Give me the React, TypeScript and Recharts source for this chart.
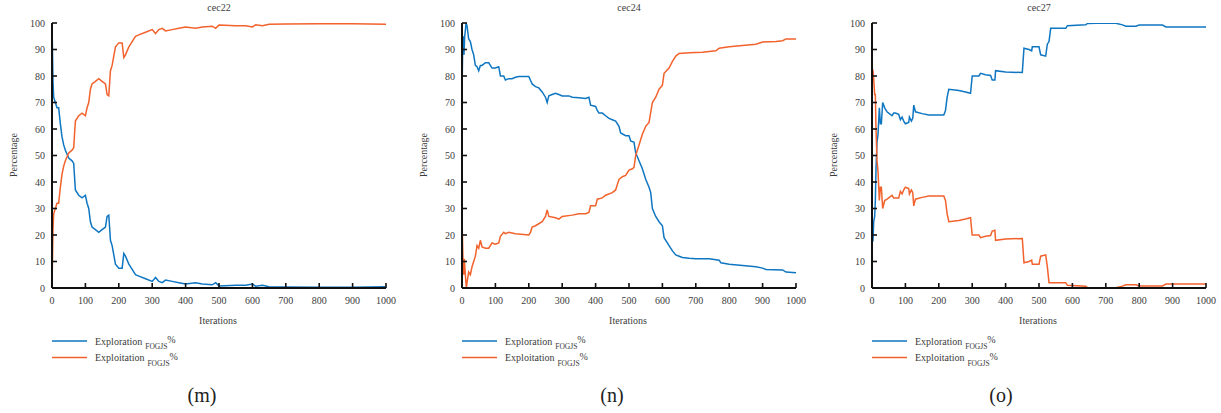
import React from 'react';
import { LineChart, Line, XAxis, YAxis } from 'recharts';

const FONT = '"Liberation Serif", "Times New Roman", serif';
const BLUE = '#0f76c2';
const ORANGE = '#f2622c';
const TEXT = '#3c3c3c';

const xTicks = [0, 100, 200, 300, 400, 500, 600, 700, 800, 900, 1000];
const yTicks = [0, 10, 20, 30, 40, 50, 60, 70, 80, 90, 100];

const titles = ['cec22', 'cec24', 'cec27'];
const captions = ['(m)', '(n)', '(o)'];
const seriesNames = ['Exploration', 'Exploitation'];
const subscript = 'FOGJS';

// cec22
const it22 = [0,3,5,10,15,20,25,30,35,40,50,60,65,70,80,90,100,105,110,115,120,130,140,150,160,165,170,175,180,190,200,210,215,220,230,240,250,260,280,300,310,320,330,340,360,380,400,430,450,480,490,500,550,580,600,610,630,650,700,800,900,1000];
const explore22 = [100,78,72,70,68,68,62,57,54,52,49,48,47,37,35,34,35,32,30,25,23,22,21,22,23,27,27.5,18,16,9,7.5,7.5,13,12,9,7,5,4.5,3.5,2.5,4,2.5,2,3,2.5,2,1.5,2,1.5,1.2,2,0.8,1,1,1.5,0.7,1,0.5,0.4,0.3,0.3,0.5];
const exploit22 = [0,22,28,30,32,32,38,43,46,48,51,52,53,63,65,66,65,68,70,75,77,78,79,78,77,73,72.5,82,84,91,92.5,92.5,87,88,91,93,95,95.5,96.5,97.5,96,97.5,98,97,97.5,98,98.5,98,98.5,98.8,98,99.2,99,99,98.5,99.3,99,99.5,99.6,99.7,99.7,99.5];

// cec24
const it24Explore = [0,2,4,6,8,10,12,15,20,25,30,35,40,45,50,55,60,70,80,90,100,110,115,125,130,140,150,160,170,200,210,220,230,240,250,255,260,270,280,290,300,320,330,350,370,380,385,400,405,410,420,430,440,450,460,470,475,490,500,505,515,520,530,540,550,560,565,570,580,590,600,605,620,630,640,650,660,680,700,740,770,775,800,840,880,900,910,960,970,1000];
const explore24 = [73,90,95,88,95,97,100,99,94,93,90,88,84,83.5,82,84,84,85,85,83,83,83.5,80,80,78.5,79,79,79.5,79.8,79.8,77,76,75.5,74,72,70,72.5,73,73.5,73,72.5,72.5,72,71.8,71.5,72,69,68.5,67,66,66,65,64,63.5,63,61,58.5,57.5,57.5,55.5,55,51,48,45,41,38,36,30,27,25,23.5,19,16,14,12.5,12,11.5,11.2,11,11,10.5,9.5,9,8.5,8,7.5,7,6.8,6,5.8];
const it24Exploit = [0,3,5,7,10,13,15,20,25,30,35,40,45,50,55,60,70,80,90,100,110,115,125,130,140,160,200,205,210,220,240,250,255,260,280,290,300,330,350,370,380,385,400,405,420,430,450,460,470,480,490,500,510,515,520,530,540,550,560,570,580,590,600,605,620,630,640,650,680,720,760,770,800,840,880,900,940,960,970,1000];
const exploit24 = [27,10,5,11,5,0,2,6,5,8,10,12,16,15,18,15.5,15,15,17,16.5,17,19.5,21,20.5,21,20.5,20,21,23,23.5,25,27,29.5,27,26.5,26,27,27.5,28,28,28.5,31,31,33.5,34,35,36,37,41,42,42.5,44.5,45,45.5,50,54,58,61,62.5,70,72,75,76.5,81,83,85.5,87.5,88.5,88.8,89,89.5,90.5,91,91.5,92,92.8,93,93.3,94,94];

// cec27
const it27 = [0,3,5,8,10,12,15,18,22,25,28,32,38,45,50,60,65,70,80,85,90,95,100,110,112,118,122,125,130,150,170,215,220,225,230,260,280,295,300,320,325,340,355,360,368,370,400,450,455,470,478,480,500,505,520,525,530,535,580,585,640,645,700,730,750,760,790,800,870,880,1000];
const explore27 = [17,18,25,27,33,45,55,58,68,62,62,70,68,66.5,66,65,66,66,65.5,63.5,64.5,63,62,62.5,64.5,63,64,69,66.5,65.8,65.3,65.3,67,72,75,74.5,74,73.5,80,80,81,80.5,80.2,78.5,78.5,82,81.5,81.3,90.5,90,89.5,91,91,88,87.5,92,93,98,98,99,99.3,99.8,100,99.9,99.3,98.8,98.8,99.2,99.2,98.5,98.5];
const exploit27 = [83,82,79,73,73,60,48,44,33,38,38,30,33,33.5,34,35,34,34,34,36.5,35.5,37,38,37.5,35.5,37,36,31,33.5,34.2,34.7,34.7,33,28,25,25.5,26,26.5,20,20,19,19.5,19.8,21.5,21.8,18,18.5,18.7,9.5,10,10.5,9,9,12,12.5,8,2,2,2,1,0.7,0.2,0,0.1,0.7,1.2,1.2,0.8,0.8,1.5,1.5];

const zip = (xs: number[], ys: number[]) => xs.map((x, i) => ({ it: x, v: ys[i] }));

const panels = [
  { ox: 0, cap: 202, a: zip(it22, explore22), b: zip(it22, exploit22) },
  { ox: 410, cap: 612, a: zip(it24Explore, explore24), b: zip(it24Exploit, exploit24) },
  { ox: 820, cap: 1001, a: zip(it27, explore27), b: zip(it27, exploit27) },
];

const axisLine = { stroke: '#111', strokeWidth: 2 };
const tickLine = { stroke: '#111', strokeWidth: 1.6 };
const tickStyle = { fill: TEXT, fontSize: 10, fontFamily: FONT };
const blank = () => '';

function Panel({ ox, a, b }: { ox: number; a: any[]; b: any[] }) {
  return (
    <div style={{ position: 'absolute', left: ox, top: 0 }}>
      <LineChart width={410} height={330} margin={{ top: 23, right: 24, bottom: 0, left: 0 }}>
        <XAxis xAxisId="b" dataKey="it" type="number" domain={[0, 1000]} ticks={xTicks} interval={0}
          height={42} tickSize={-5} tickMargin={14} axisLine={axisLine} tickLine={tickLine} tick={tickStyle}
          allowDataOverflow />
        <XAxis xAxisId="t" orientation="top" type="number" domain={[0, 1000]} ticks={xTicks} interval={0}
          height={0} tickSize={-5} axisLine={axisLine} tickLine={tickLine} tickFormatter={blank} allowDataOverflow />
        <YAxis yAxisId="l" type="number" domain={[0, 100]} ticks={yTicks} interval={0} width={52}
          tickSize={-5} tickMargin={12} axisLine={axisLine} tickLine={tickLine} tick={tickStyle} allowDataOverflow />
        <YAxis yAxisId="r" orientation="right" type="number" domain={[0, 100]} ticks={yTicks} interval={0} width={0}
          tickSize={-5} axisLine={axisLine} tickLine={tickLine} tickFormatter={blank} allowDataOverflow />
        <Line xAxisId="b" yAxisId="l" data={a} dataKey="v" type="linear" stroke={BLUE} strokeWidth={1.5}
          dot={false} isAnimationActive={false} />
        <Line xAxisId="b" yAxisId="l" data={b} dataKey="v" type="linear" stroke={ORANGE} strokeWidth={1.5}
          dot={false} isAnimationActive={false} />
      </LineChart>
    </div>
  );
}

export default function App() {
  return (
    <div style={{ position: 'absolute', left: 0, top: 0, width: 1221, height: 413, background: '#fff', overflow: 'hidden' }}>
      {panels.map((p, i) => (
        <Panel key={i} ox={p.ox} a={p.a} b={p.b} />
      ))}
      <svg width={1221} height={413} style={{ position: 'absolute', left: 0, top: 0, pointerEvents: 'none' }}
        fontFamily={FONT}>
        {panels.map((p, i) => {
          const ox = p.ox;
          return (
            <g key={i}>
              <text x={ox + 219} y={11} textAnchor="middle" fontSize={10} fill={TEXT}>{titles[i]}</text>
              <text x={ox + 15} y={155} textAnchor="middle" dominantBaseline="middle" fontSize={10} fill={TEXT}
                transform={`rotate(-90 ${ox + 15} 155)`}>Percentage</text>
              <text x={ox + 218} y={324} textAnchor="middle" fontSize={10} fill={TEXT}>Iterations</text>
              {[BLUE, ORANGE].map((c, k) => (
                <g key={k}>
                  <line x1={ox + 52} x2={ox + 87} y1={341 + k * 16.5} y2={341 + k * 16.5} stroke={c} strokeWidth={1.5} />
                  <text x={ox + 95} y={344.5 + k * 16.5} fontSize={10} fill={TEXT}>
                    {seriesNames[k]}
                    <tspan dx={3} dy={4.5} fontSize={7.5}>{subscript}</tspan>
                    <tspan dy={-6} fontSize={10}>%</tspan>
                  </text>
                </g>
              ))}
              <text x={p.cap} y={402} textAnchor="middle" fontSize={20} fill="#222">{captions[i]}</text>
            </g>
          );
        })}
      </svg>
    </div>
  );
}
